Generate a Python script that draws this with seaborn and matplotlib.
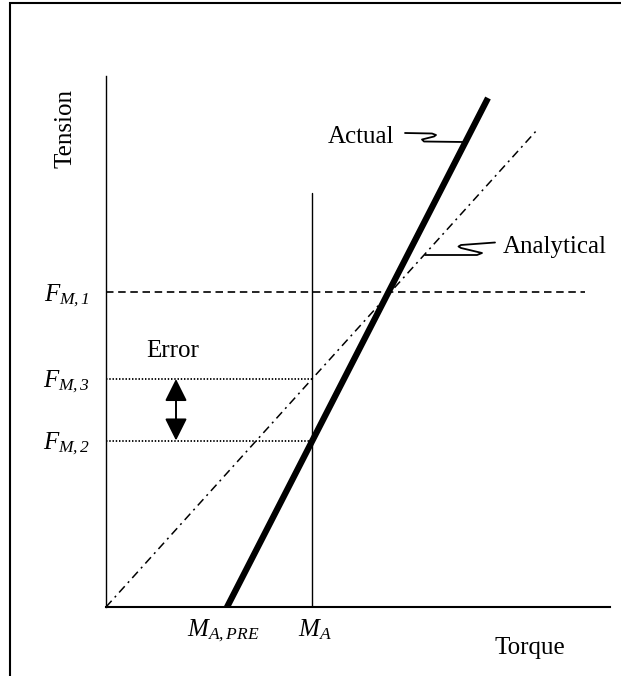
import matplotlib
matplotlib.use("Agg")
import matplotlib.pyplot as plt
import seaborn as sns
import pandas as pd
from matplotlib.patches import Rectangle

# values (arbitrary torque / tension units)
M_A_PRE = 2.42
M_A = 4.12
F_M1 = 6.29
F_M2 = 3.33
F_M3 = 4.56
x_max = 10.08
y_max = 10.62

actual_torque = [2.36, 7.64]
actual_tension = [-0.12, 10.18]
analytical_torque = [0.0, 8.62]
analytical_tension = [0.0, 9.54]
F_M1_end = 9.58
M_A_top = 8.28
error_x = 1.40

# little squiggly leaders from the labels to the lines
actual_leader_x = [5.98, 6.52, 6.60, 6.56, 6.32, 6.36, 7.16]
actual_leader_y = [9.48, 9.47, 9.44, 9.41, 9.35, 9.31, 9.30]
analytical_leader_x = [7.78, 7.10, 7.05, 7.10, 7.52, 7.42, 6.38]
analytical_leader_y = [7.29, 7.24, 7.21, 7.18, 7.08, 7.04, 7.04]

sns.set_style("white")
plt.rcParams['font.family'] = ['Liberation Serif', 'DejaVu Serif']
plt.rcParams['text.color'] = 'black'
plt.rcParams['mathtext.fontset'] = 'custom'
plt.rcParams['mathtext.rm'] = 'Liberation Serif:italic'
plt.rcParams['mathtext.it'] = 'Liberation Serif:italic'

fig = plt.figure(figsize=(6.21, 6.76), dpi=100)
ax = fig.add_axes([106 / 621, 69 / 676, 504 / 621, 531 / 676])

df_actual = pd.DataFrame({'Torque': actual_torque, 'Tension': actual_tension})
df_analytical = pd.DataFrame({'Torque': analytical_torque, 'Tension': analytical_tension})

sns.lineplot(data=df_actual, x='Torque', y='Tension', ax=ax, color='black',
             linewidth=4.5, solid_capstyle='butt')
sns.lineplot(data=df_analytical, x='Torque', y='Tension', ax=ax, color='black',
             linewidth=1.1, linestyle=(0, (5.5, 3, 1.3, 3)))

ax.plot([0, F_M1_end], [F_M1, F_M1], color='black', linewidth=1.2, linestyle=(0, (4.5, 2.8)))
ax.plot([0, M_A], [F_M3, F_M3], color='black', linewidth=1.3, linestyle=(0, (0.8, 1.0)))
ax.plot([0, M_A], [F_M2, F_M2], color='black', linewidth=1.3, linestyle=(0, (0.8, 1.0)))
ax.plot([M_A, M_A], [0, M_A_top], color='black', linewidth=1.0)

ax.plot(actual_leader_x, actual_leader_y, color='black', linewidth=1.3,
        solid_joinstyle='round', solid_capstyle='round')
ax.plot(analytical_leader_x, analytical_leader_y, color='black', linewidth=1.3,
        solid_joinstyle='round', solid_capstyle='round')

ax.annotate('', xy=(error_x, F_M2), xytext=(error_x, F_M3),
            arrowprops=dict(arrowstyle='<|-|>', color='black', lw=1.4,
                            mutation_scale=34, shrinkA=0, shrinkB=0))

ax.set_xlim(0, x_max)
ax.set_ylim(0, y_max)
ax.set_xticks([])
ax.set_yticks([])
ax.set_xlabel('')
ax.set_ylabel('')
for side in ['top', 'right']:
    ax.spines[side].set_visible(False)
ax.spines['left'].set_linewidth(1.0)
ax.spines['bottom'].set_linewidth(1.5)
ax.spines['left'].set_color('black')
ax.spines['bottom'].set_color('black')

fs = 18
ytr = ax.get_yaxis_transform()
xtr = ax.get_xaxis_transform()
for val, lab in [(F_M1, r'$F_{M,1}$'), (F_M3, r'$F_{M,3}$'), (F_M2, r'$F_{M,2}$')]:
    ax.text(-0.032, val - 0.17, lab, transform=ytr, ha='right', va='baseline', fontsize=fs)

ax.text(M_A_PRE - 0.07, -0.0546, r'$M_{A,PRE}$', transform=xtr,
        ha='center', va='baseline', fontsize=fs)
ax.text(M_A + 0.05, -0.0546, r'$M_{A}$', transform=xtr,
        ha='center', va='baseline', fontsize=fs)

ax.text(5.76, 9.28, 'Actual', ha='right', va='baseline', fontsize=fs)
ax.text(7.94, 7.08, 'Analytical', ha='left', va='baseline', fontsize=fs)
ax.text(1.34, 5.0, 'Error', ha='center', va='baseline', fontsize=fs)

ax.text(0.841, -0.0885, 'Torque', transform=ax.transAxes, ha='center', va='baseline', fontsize=fs)
ax.text(-0.0694, 0.902, 'Tension', transform=ax.transAxes, ha='center', va='baseline',
        rotation=90, rotation_mode='anchor', fontsize=fs)

# frame around the whole drawing, cut off at the right and bottom
fig.add_artist(Rectangle((9.7 / 621, -0.05), 1.2, 1 - 3 / 676 + 0.05,
                         transform=fig.transFigure, fill=False,
                         edgecolor='black', linewidth=1.5))

fig.savefig('out.png', dpi=100)
